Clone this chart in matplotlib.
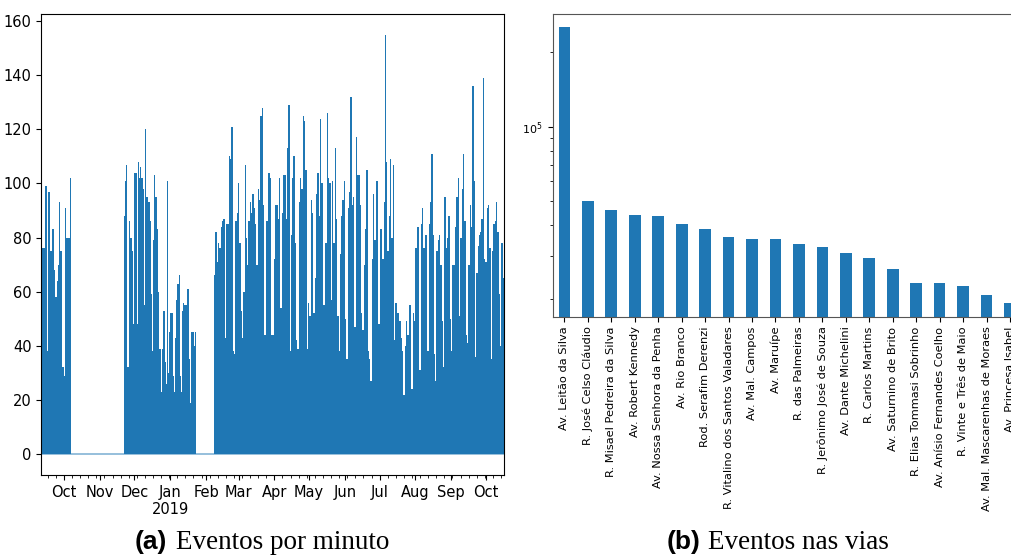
import matplotlib
matplotlib.use('Agg')
import matplotlib.pyplot as plt
import matplotlib.dates as mdates
import matplotlib.ticker as mticker
import pandas as pd

blue = '#1f77b4'

# (a) events per minute: daily peaks, evenly spread over each active period
periods = [
    ('2018-09-11 10:00', '2018-10-06 20:00'),
    ('2018-11-21 22:00', '2019-01-23 05:00'),
    ('2019-02-07 20:00', '2019-10-16 14:00'),
]
peaks_1 = [97, 76, 76, 99, 99, 38, 97, 75, 75, 83, 83, 68, 58, 64, 70, 93, 75, 75, 32, 29,
           91, 80, 80, 80, 102]
peaks_2 = [88, 101, 107, 32, 86, 80, 80, 75, 48, 104, 104, 48, 108, 102, 106, 102, 98, 55,
           120, 95, 95, 93, 86, 59, 38, 79, 103, 95, 83, 60, 39, 39, 23, 39, 53, 34, 26, 101,
           30, 45, 52, 52, 29, 23, 43, 57, 63, 66, 29, 23, 53, 56, 55, 55, 61, 61, 35, 19,
           45, 45, 40, 45]
peaks_3 = [66, 82, 71, 78, 76, 84, 86, 87, 43, 85, 85, 110, 109, 121, 38, 37, 86, 89, 100,
           78, 53, 43, 60, 107, 80, 70, 86, 93, 89, 96, 91, 85, 70, 98, 94, 125, 128, 92, 44,
           86, 86, 104, 102, 44, 44, 72, 92, 92, 87, 102, 54, 89, 103, 103, 87, 113, 129, 38,
           81, 102, 110, 78, 42, 39, 93, 102, 98, 125, 123, 105, 39, 56,
           51, 94, 89, 52, 65, 96, 104, 88, 124, 100, 55, 55, 78, 126, 102, 100, 57, 101, 78,
           113, 87, 51, 38, 74, 88, 94, 101, 50, 35, 91, 97, 132, 92, 95, 47, 117, 103, 103,
           92, 52, 46, 70, 83, 105, 38, 35, 27, 72, 96, 79, 101, 101, 48, 83, 83, 72, 93, 155,
           108, 75, 88, 109, 80, 107, 42, 56, 52, 52, 49, 43, 38, 22,
           40, 49, 44, 55, 55, 24, 52, 49, 76, 84, 84, 31, 85, 91, 76, 81, 81, 38, 85, 93,
           111, 81, 37, 27, 75, 79, 81, 70, 49, 32, 95, 76, 80, 88, 50, 38, 70, 70, 84, 95,
           102, 51, 80, 98, 111, 86, 44, 41, 70, 92, 84, 136, 101, 36, 67, 77, 81, 82, 87,
           139, 72, 71, 91, 92, 76, 35, 75, 85, 86, 93, 82, 59, 40, 78, 65]
series_a = [peaks_1, peaks_2, peaks_3]

# (b) events per street (log scale)
streets = ['Av. Leitão da Silva', 'R. José Celso Cláudio', 'R. Misael Pedreira da Silva',
           'Av. Robert Kennedy', 'Av. Nossa Senhora da Penha', 'Av. Rio Branco',
           'Rod. Serafim Derenzi', 'R. Vitalino dos Santos Valadares', 'Av. Mal. Campos',
           'Av. Maruípe', 'R. das Palmeiras', 'R. Jerônimo José de Souza',
           'Av. Dante Michelini', 'R. Carlos Martins', 'Av. Saturnino de Brito',
           'R. Elias Tommasi Sobrinho', 'Av. Anísio Fernandes Coelho', 'R. Vinte e Três de Maio',
           'Av. Mal. Mascarenhas de Moraes', 'Av. Princesa Isabel']
street_events = [252600, 50000, 46000, 43900, 43500, 40400, 38500, 35800, 35100, 35100,
                 33500, 32600, 30800, 29400, 26500, 23300, 23300, 22650, 20800, 19300]

fig = plt.figure(figsize=(10.11, 5.55), dpi=100)

# ---- (a)
ax1 = fig.add_axes([41.3 / 1011, 80 / 555, 462.7 / 1011, 461.3 / 555])
for (start, end), peaks in zip(periods, series_a):
    edges = pd.date_range(start, end, periods=len(peaks) + 1)
    ax1.fill_between(edges, 0, peaks + [peaks[-1]], step='post', color=blue, lw=0)
x0, x1 = pd.Timestamp(periods[0][0]), pd.Timestamp(periods[-1][1])
ax1.plot([x0, x1], [0, 0], color=blue, lw=1.2, alpha=0.55)
ax1.set_xlim(x0, x1)
ax1.xaxis.set_major_locator(mdates.MonthLocator())
ax1.xaxis.set_major_formatter(mticker.FuncFormatter(
    lambda v, pos: mdates.num2date(v).strftime('%b') +
    ('\n%d' % mdates.num2date(v).year if mdates.num2date(v).month == 1 else '')))
ax1.xaxis.set_minor_locator(mdates.WeekdayLocator(byweekday=mdates.MO))
ax1.tick_params(axis='both', which='major', labelsize=10.5)
ax1.tick_params(axis='x', which='minor', length=2)

# ---- (b)
ax2 = fig.add_axes([552.7 / 1011, 238.3 / 555, 469 / 1011, 303 / 555])
ax2.bar(range(len(streets)), street_events, width=0.5, color=blue)
ax2.set_yscale('log')
ax2.set_ylim(1.70e4, 2.87e5)
ax2.set_xlim(-0.5, len(streets) - 0.5)
ax2.set_xticks(range(len(streets)))
ax2.set_xticklabels(streets, rotation=90, fontsize=8.2)
ax2.yaxis.set_minor_formatter(mticker.NullFormatter())
ax2.tick_params(axis='y', labelsize=8)
for s in ax2.spines.values():
    s.set_color('#555555')

# ---- captions
fig.text(135 / 1011, 6 / 555, '(a)', fontsize=19, fontweight='bold',
         family='Liberation Sans', va='baseline')
fig.text(176 / 1011, 6 / 555, 'Eventos por minuto', fontsize=19.5,
         family='Liberation Serif', va='baseline')
fig.text(667 / 1011, 6 / 555, '(b)', fontsize=19, fontweight='bold',
         family='Liberation Sans', va='baseline')
fig.text(708 / 1011, 6 / 555, 'Eventos nas vias', fontsize=19.5,
         family='Liberation Serif', va='baseline')

fig.savefig('out.png', dpi=100)
